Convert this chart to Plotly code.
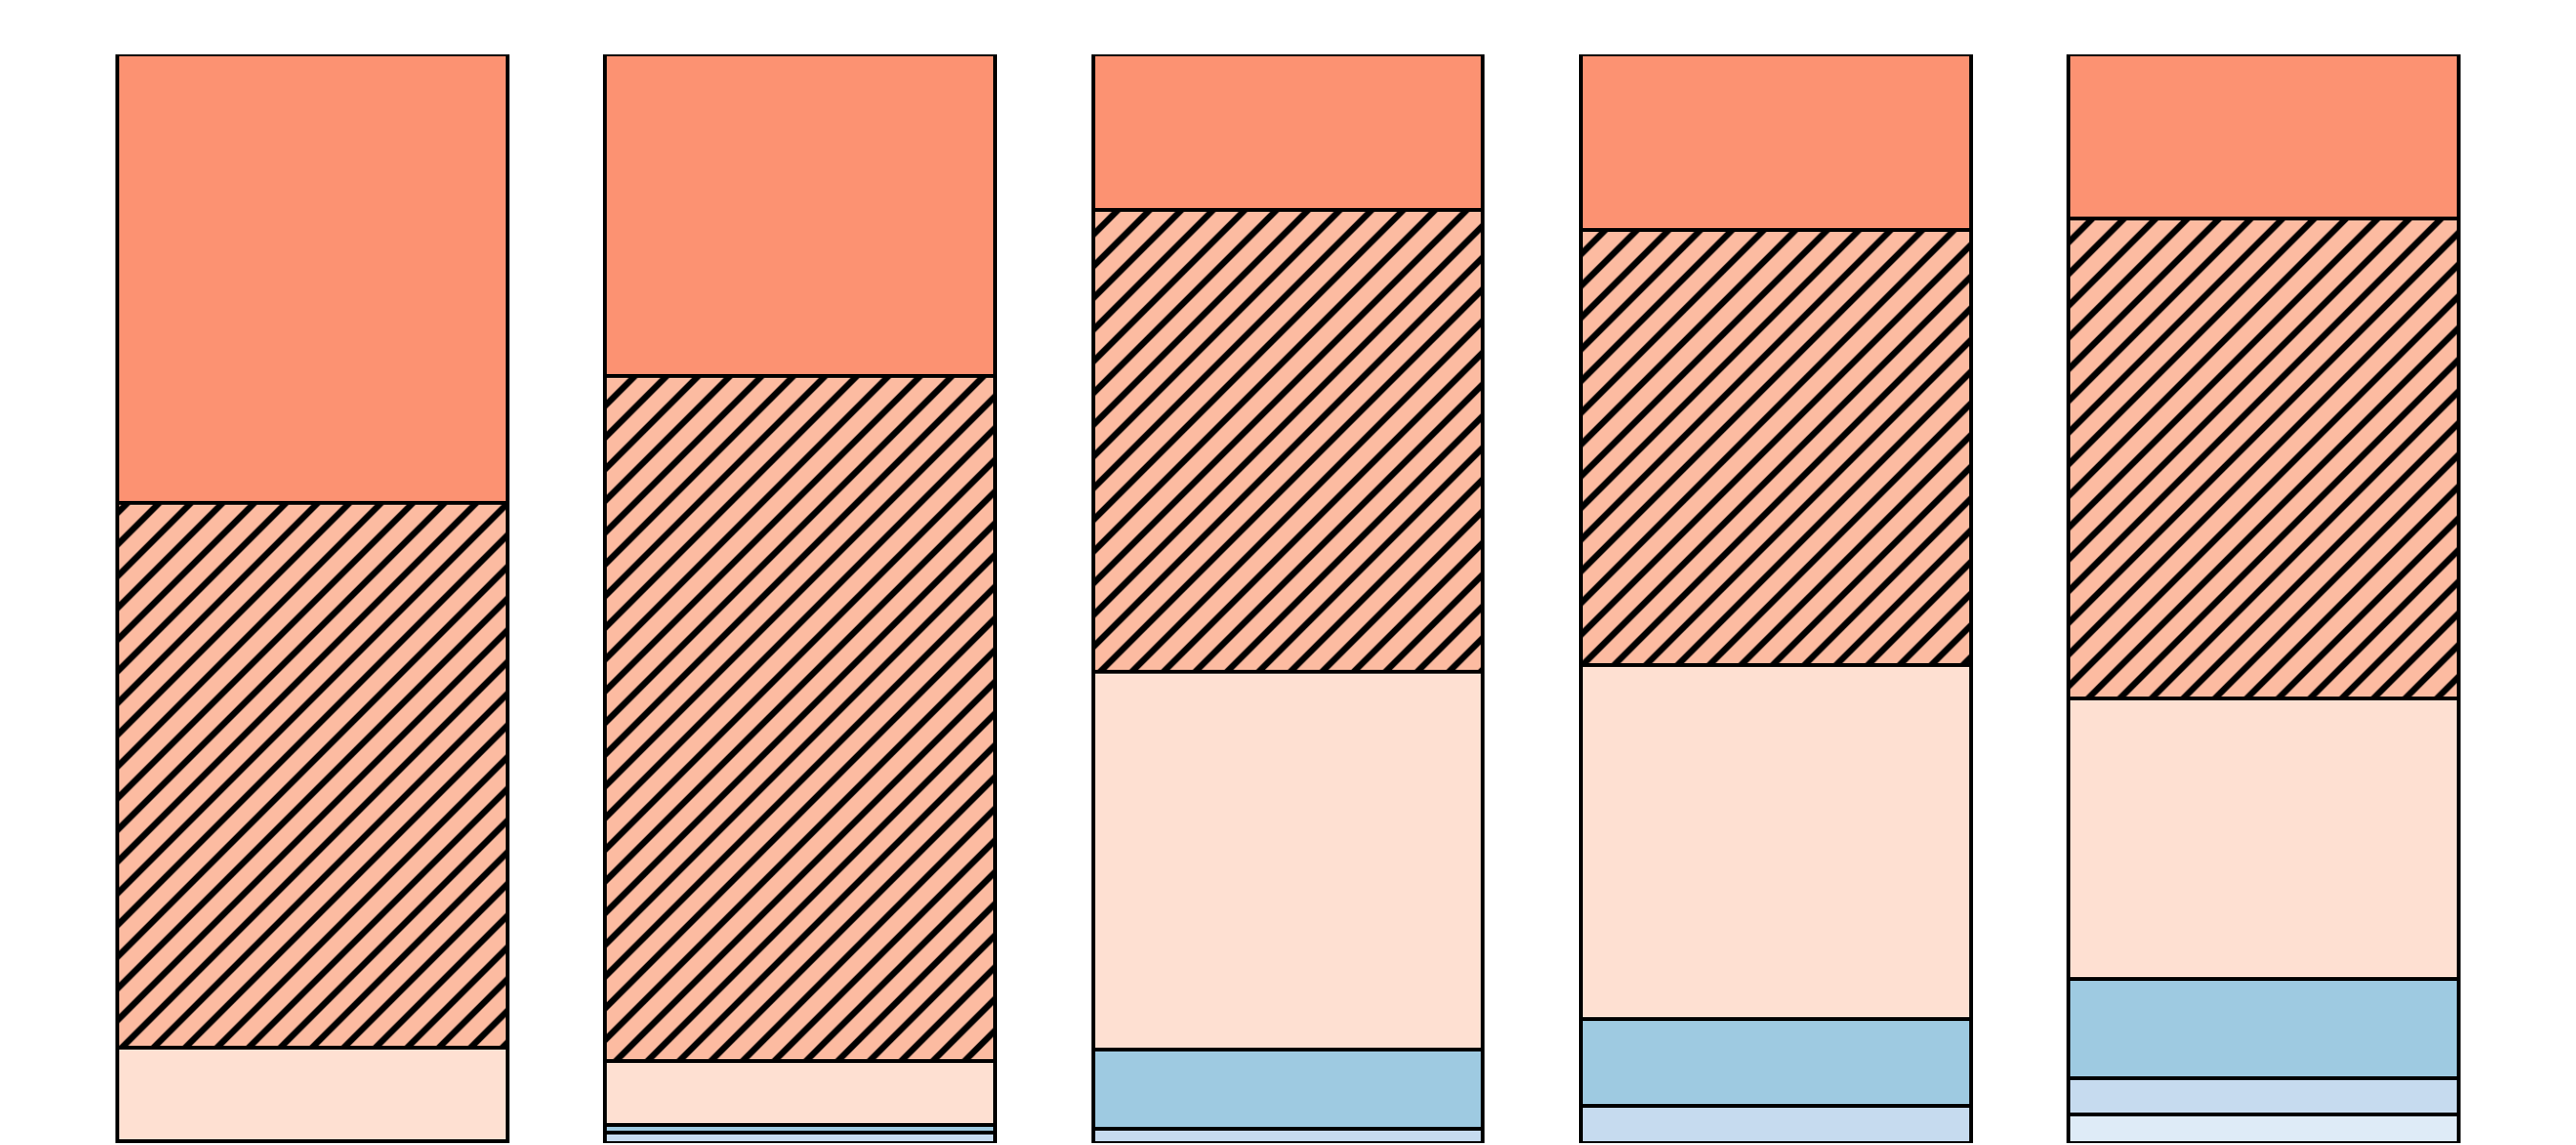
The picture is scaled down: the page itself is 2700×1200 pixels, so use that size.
import plotly.graph_objects as go

categories = ["Group 1", "Group 2", "Group 3", "Group 4", "Group 5"]

# stacked shares (percent), bottom to top
very_light_blue = [0.0, 0.0, 0.0, 0.0, 2.6]
light_blue = [0.0, 1.0, 1.3, 3.4, 3.4]
mid_blue = [0.2, 0.7, 7.3, 8.0, 9.1]
light_peach = [8.6, 5.8, 34.7, 32.5, 25.7]
hatched_peach = [50.0, 63.0, 42.4, 40.0, 44.1]
salmon = [41.2, 29.5, 14.3, 16.1, 15.1]

series = [
    ("very light blue", very_light_blue, "#deebf7", False),
    ("light blue", light_blue, "#c6dbef", False),
    ("mid blue", mid_blue, "#9ecae1", False),
    ("light peach", light_peach, "#fee0d2", False),
    ("hatched peach", hatched_peach, "#fcbba1", True),
    ("salmon", salmon, "#fc9272", False),
]

fig = go.Figure()
for name, vals, color, hatch in series:
    marker = dict(color=color, line=dict(color="black", width=4))
    if hatch:
        marker["pattern"] = dict(shape="/", size=23.5, solidity=0.28,
                                 fgcolor="black", bgcolor=color, fillmode="replace")
    fig.add_trace(go.Bar(x=categories, y=vals, name=name, marker=marker,
                         showlegend=False, hoverinfo="y"))

fig.update_layout(
    barmode="stack",
    bargap=0.2,
    width=2700,
    height=1200,
    margin=dict(l=64, r=80, t=49, b=10),
    paper_bgcolor="white",
    plot_bgcolor="white",
    xaxis=dict(visible=False),
    yaxis=dict(visible=False, range=[0, 100]),
)

fig.write_html("out.html")
